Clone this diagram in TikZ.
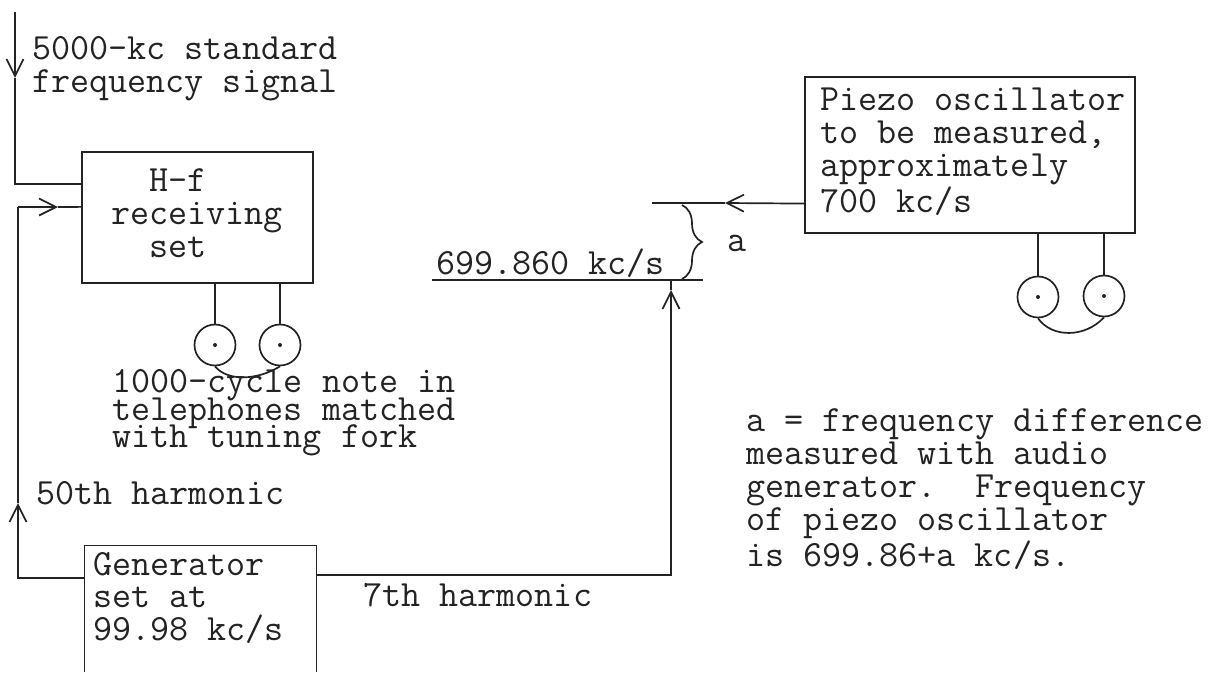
\documentclass[tikz,border=0pt]{standalone}
\usetikzlibrary{arrows.meta, calc, decorations.pathreplacing}
\definecolor{ink}{RGB}{35,35,35}
\newcommand{\typed}{\fontsize{18.5}{16.4}\selectfont\ttfamily}

\begin{document}
\begin{tikzpicture}[
  x=0.5pt,y=-0.5pt,
  wire/.style={ink,line width=0.85pt},
  arr/.style={wire,-{Straight Barb[length=8.5pt,width=8.5pt]}},
  block/.style={draw=ink,line width=0.85pt,inner sep=0pt},
  note/.style={text=ink,font=\typed,inner sep=0pt,align=left,anchor=west},
  phone/.style={circle,draw=ink,line width=0.85pt,minimum size=20.5pt,inner sep=0pt}
]
\useasboundingbox (0,0) rectangle (1221,674);
% boxes
\node[block,minimum width=115.5pt,minimum height=65.5pt] (hf) at (197.5,217.5) {};
\node[note] (hflbl) at (111,213) {\ \ H-f\\receiving\\\ \ set};
\node[block,minimum width=165pt,minimum height=78pt] (piezo) at (970,155) {};
\node[note] (piezolbl) at (820,152) {Piezo oscillator\\to be measured,\\approximately\\700 kc/s};
\node[inner sep=0pt,minimum width=115.5pt,minimum height=63pt] (gen) at (200.5,609) {};
\node[note] (genlbl) at (93,598) {Generator\\set at\\99.98 kc/s};
\draw[wire] (gen.south west) |- (gen.north east) -- (gen.south east);
% telephones
\node[phone] (ph1) at (215,345) {};
\node[phone] (ph2) at (280,345) {};
\node[phone] (ph3) at (1038,297) {};
\node[phone] (ph4) at (1104,296) {};
\foreach \ph in {ph1,ph2,ph3,ph4} \fill[ink] (\ph) circle (2);
\draw[wire] (ph1 |- hf.south) -- (ph1.north);
\draw[wire] (ph2 |- hf.south) -- (ph2.north);
\draw[wire] (ph3 |- piezo.south) -- (ph3.north);
\draw[wire] (ph4 |- piezo.south) -- (ph4.north);
\draw[wire] (ph1.south) .. controls (228,382) and (258,380) .. (ph2.south);
\draw[wire] (ph3.south) .. controls (1052,338) and (1085,338) .. (ph4.south);
% levels
\coordinate (lowL) at (432,280);
\coordinate (lowR) at (703,280);
\coordinate (lowJ) at (671,280);
\coordinate (upL) at (652,203);
\coordinate (braceT) at (682,205);
\coordinate (braceB) at (682,279);
\coordinate (sigTop) at (15,12);
\coordinate (sigTip) at (15,78);
\coordinate (retBend) at (18,207);
\coordinate (retTip) at (18,503);
\coordinate (retIn) at (58,207);
\coordinate (sevenBend) at (671,290);
\coordinate (upTip) at (725,203);
\draw[wire] (lowL) -- (lowR);
% input lines
\draw[arr] (sigTop) -- (sigTip);
\draw[wire] (sigTip) |- ($(hf.north west)!0.25!(hf.south west)$);
\draw[arr] ($(gen.north west)!0.254!(gen.south west)$) -| (retTip);
\draw[wire] (retTip) -- (retBend);
\draw[arr] (retBend) -- (retIn);
\draw[wire] (retIn) -- ($(hf.north west)!0.42!(hf.south west)$);
% seventh harmonic
\draw[arr] ($(gen.north east)!0.23!(gen.south east)$) -| (sevenBend);
\draw[wire] (sevenBend) -- (lowJ);
% piezo line
\draw[arr] ($(piezo.north west)!0.808!(piezo.south west)$) -- (upTip);
\draw[wire] (upTip) -- (upL);
\draw[wire,decorate,decoration={brace,amplitude=10pt}] (braceT) -- (braceB);
% labels
\node[note] (sig) at (32,69) {5000-kc standard\\frequency signal};
\node[note] (phonelbl) at (112,413) {1000-cycle note in\\[-2.6pt]telephones matched\\[-2.6pt]with tuning fork};
\node[note] (fifty) at (36,493) {50th harmonic};
\node[note] (seven) at (363,595) {7th harmonic};
\node[note] (low) at (436,263) {699.860 kc/s};
\node[note] (diff) at (727,243) {a};
\node[note] (expl) at (746,489) {a = frequency difference\\measured with audio\\generator.\ \ Frequency\\of piezo oscillator\\is 699.86+a kc/s.};
\end{tikzpicture}
\end{document}
